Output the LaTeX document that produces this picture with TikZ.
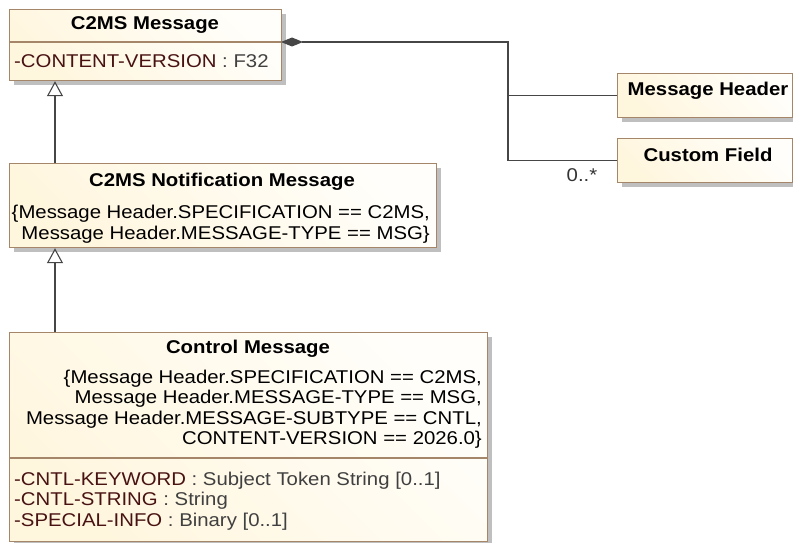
\documentclass[tikz,border=0pt]{standalone}
\usepackage{fontspec}
\setmainfont[FakeStretch=1.1]{Liberation Sans}
\usetikzlibrary{arrows.meta,shadows,calc}
\definecolor{bordc}{RGB}{166,134,104}
\definecolor{filla}{RGB}{255,246,222}
\definecolor{fillb}{RGB}{255,254,250}
\definecolor{namec}{RGB}{72,18,18}
\definecolor{typec}{RGB}{64,64,64}
\definecolor{linec}{RGB}{70,70,70}
\newcommand{\an}[1]{\textcolor{namec}{#1}}
\newcommand{\at}[1]{\textcolor{typec}{#1}}
\begin{document}
\begin{tikzpicture}[x=1pt,y=-1pt,
  umlbox/.style={draw=bordc,line width=1.2pt,anchor=north west,inner sep=0pt,
    left color=filla,right color=fillb,shading angle=135,
    drop shadow={shadow xshift=4pt,shadow yshift=-4pt,fill=black!25,opacity=1}},
  txt/.style={font=\fontsize{18.5}{20.5}\selectfont,inner sep=0pt,text=black},
  ttl/.style={txt,font=\fontsize{18.5}{20.5}\selectfont\bfseries},
  sepline/.style={draw=bordc,line width=1.2pt},
  conn/.style={draw=linec,line width=1.1pt},
  gen/.style={conn,-{Triangle[open,length=15pt,width=16pt,line width=1.1pt]}},
  comp/.style={conn,{Diamond[length=22pt,width=9pt,fill=linec]}-}
]
\useasboundingbox (0,0) rectangle (793,543);
% boxes
\node[umlbox,minimum width=272pt,minimum height=71pt] (c2ms) at (9,9) {};
\node[umlbox,minimum width=427pt,minimum height=84pt] (notif) at (9,163) {};
\node[umlbox,minimum width=478pt,minimum height=209pt] (ctrl) at (9,332) {};
\node[umlbox,minimum width=175pt,minimum height=44pt] (mh) at (617,73) {};
\node[umlbox,minimum width=175pt,minimum height=44pt] (cf) at (617,138) {};
% separators
\draw[sepline] (c2ms.west |- 0,42) -- (c2ms.east |- 0,42);
\draw[sepline] (ctrl.west |- 0,458) -- (ctrl.east |- 0,458);
% texts
\node[ttl] (t1) at (145,25) {C2MS Message};
\node[txt,anchor=west] (a1) at (14,61) {\an{-CONTENT-VERSION} \at{: F32}};
\node[ttl] (t2) at (222,182) {C2MS Notification Message};
\node[txt,anchor=east,align=right] (k2) at (430,224) {\{Message Header.SPECIFICATION == C2MS,\\Message Header.MESSAGE-TYPE == MSG\}};
\node[ttl] (t3) at (248,349) {Control Message};
\node[txt,anchor=east,align=right] (k3) at (482,409) {\{Message Header.SPECIFICATION == C2MS,\\Message Header.MESSAGE-TYPE == MSG,\ \\Message Header.MESSAGE-SUBTYPE == CNTL,\\CONTENT-VERSION == 2026.0\}};
\node[txt,anchor=west,align=left] (a3) at (14,501) {\an{-CNTL-KEYWORD} \at{: Subject Token String [0..1]}\\\an{-CNTL-STRING} \at{: String}\\\an{-SPECIAL-INFO} \at{: Binary [0..1]}};
\node[ttl] (tmh) at (708,91) {Message Header};
\node[ttl] (tcf) at (708,155) {Custom Field};
% connectors
\coordinate (dstart) at (281,42);
\coordinate (jx) at (508,0);
\draw[comp] (dstart) -| (jx |- cf.west) -- (cf.west);
\draw[conn] (jx |- mh.west) -- (mh.west);
\node[txt,text=black!80] (mult) at (582,175) {0..*};
\draw[gen] (notif.north -| 55,0) -- (c2ms.south -| 55,0);
\draw[gen] (ctrl.north -| 55,0) -- (notif.south -| 55,0);
\end{tikzpicture}
\end{document}
